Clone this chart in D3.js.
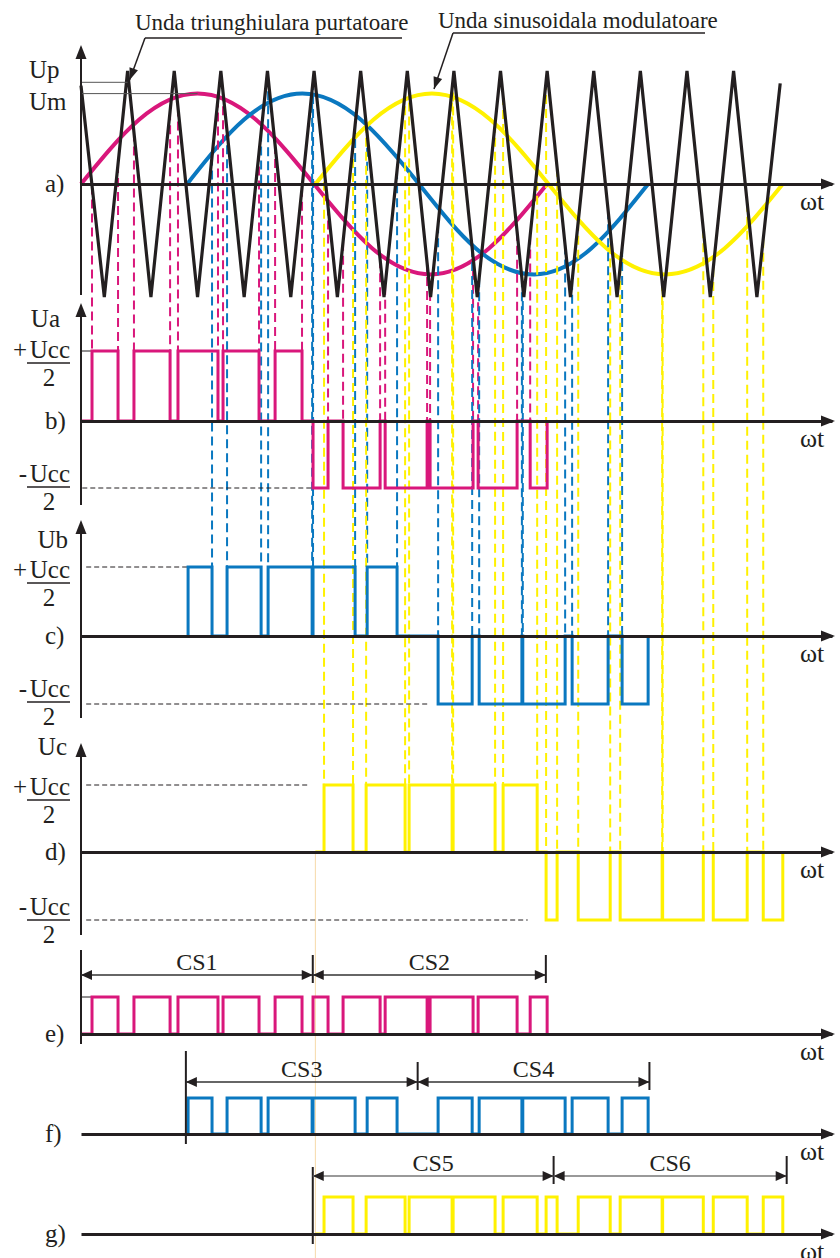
<!DOCTYPE html>
<html>
<head>
<meta charset="utf-8">
<script src="https://cdnjs.cloudflare.com/ajax/libs/d3/7.8.5/d3.min.js"></script>
<style>
  body { margin: 0; background: #fff; }
  text { font-family: "Liberation Serif", "Times New Roman", serif; fill: #231f20; }
</style>
</head>
<body>
<div id="chart"></div>
<script>
"use strict";

// carrier triangle: vertices in ωt (degrees), value relative to Up
var triT = [0, 18, 36, 54, 72, 90, 108, 126, 144, 162, 180, 198, 216, 234, 252, 270,
            288, 306, 324, 342, 360, 378, 396, 414, 432, 450, 468, 486, 504, 522, 540];
var triV = [0.87, -1, 1, -1, 1, -1, 1, -1, 1, -1, 1, -1, 1, -1, 1, -1,
            1, -1, 1, -1, 1, -1, 1, -1, 1, -1, 1, -1, 1, -1, 0.89];

// modulating waves: sample times per phase and shared sampled values
var sineV = [0, 0.57, 0.8, 0.57, 0, -0.57, -0.8, -0.57, 0];
var aT = [0, 45, 90, 135, 180, 225, 270, 315, 360];
var bT = [82, 126, 171, 216, 261, 305, 350, 394, 438];
var cT = [181, 226, 271, 316, 361, 406, 451, 497, 542];

// switching intervals [from, to] in degrees, positive and negative
var aPos = [[8.5, 28.6], [40.9, 68.8], [74.9, 105.8], [109.7, 137.5], [149.9, 170.7]];
var aNeg = [[179.2, 190.8], [202.4, 231.0], [234.9, 267.3], [269.6, 302.8], [306.7, 336.8], [346.9, 360]];
var bPos = [[82.7, 101.2], [112.8, 139.1], [144.5, 178.5], [179.2, 211.7], [221.0, 244.1]];
var bNeg = [[275.8, 302.1], [307.5, 340.5], [341.2, 373.9], [379.3, 407.1], [417.9, 438]];
var cPos = [[187.7, 210.1], [220.2, 250.3], [253.4, 286.6], [287.4, 319.8], [326.0, 352.3]];
var cNeg = [[359.2, 367.7], [384.0, 408.7], [416.4, 448.8], [449.2, 480.6], [488.3, 514.5], [526.9, 542]];

// commutation sequences
var csNames = ["CS1", "CS2", "CS3", "CS4", "CS5", "CS6"];
var csStart = [0, 179, 81, 260, 179, 365];
var csEnd   = [179, 359, 260, 439, 365, 545];

// level markers Up / Um
var upLevel = 0.9, umLevel = 0.8;

var W = 840, H = 1258, ink = "#231f20";
var svg = d3.select("#chart").append("svg").attr("width", W).attr("height", H);

var x = d3.scaleLinear().domain([0, 580]).range([81, 832]);
var yA = d3.scaleLinear().domain([-1, 1]).range([297, 71]);
var yB = d3.scaleLinear().domain([-1, 0, 1]).range([488, 421, 351]);
var yC = d3.scaleLinear().domain([-1, 0, 1]).range([704, 636, 567]);
var yD = d3.scaleLinear().domain([-1, 0, 1]).range([920, 852, 785]);
var yE = d3.scaleLinear().domain([0, 1]).range([1034, 997]);
var yF = d3.scaleLinear().domain([0, 1]).range([1134, 1098]);
var yG = d3.scaleLinear().domain([0, 1]).range([1234, 1197]);
var tri = d3.scaleLinear().domain(triT).range(triV);

var phases = [
  { t: aT, pos: aPos, neg: aNeg, y: yB, yr: yE, color: "#d9177b" },
  { t: bT, pos: bPos, neg: bNeg, y: yC, yr: yF, color: "#0a78c0" },
  { t: cT, pos: cPos, neg: cNeg, y: yD, yr: yG, color: "#fff100" }
];

function arrowHead(g, x1, y1, x2, y2, len, hw) {
  var dx = x2 - x1, dy = y2 - y1, L = Math.sqrt(dx * dx + dy * dy);
  var ux = dx / L, uy = dy / L;
  var bx = x2 - ux * len, by = y2 - uy * len;
  g.append("path")
    .attr("d", "M" + x2 + "," + y2 + "L" + (bx - uy * hw) + "," + (by + ux * hw) +
               "L" + (bx + uy * hw) + "," + (by - ux * hw) + "Z")
    .attr("fill", ink);
}

/*
 * thin faint guide under the yellow phase start
 */
svg.append("line")
  .attr("x1", x(cT[0])).attr("x2", x(cT[0]))
  .attr("y1", yD(0)).attr("y2", H)
  .attr("stroke", "#f6d9a8").attr("stroke-width", 1);

/*
 * modulating sine waves
 */
var sineLine = d3.line().x(function (d) { return x(d[0]); })
                        .y(function (d) { return yA(d[1]); })
                        .curve(d3.curveNatural);
phases.forEach(function (p) {
  svg.append("path")
    .attr("d", sineLine(d3.zip(p.t, sineV)))
    .attr("fill", "none").attr("stroke", p.color).attr("stroke-width", 4);
});

/*
 * dashed projections from the intersections down to the phase voltage
 */
phases.forEach(function (p) {
  var edges = [];
  p.pos.forEach(function (iv) { iv.forEach(function (t) { edges.push({ t: t, lv: 1 }); }); });
  p.neg.forEach(function (iv) { iv.forEach(function (t) { edges.push({ t: t, lv: 0 }); }); });
  edges = edges.filter(function (e) { return e.t > p.t[0] + 1 && e.t < p.t[8] - 1; });
  svg.append("g").selectAll("line").data(edges).join("line")
    .attr("x1", function (e) { return x(e.t); })
    .attr("x2", function (e) { return x(e.t); })
    .attr("y1", function (e) { return yA(tri(e.t)); })
    .attr("y2", function (e) { return p.y(e.lv); })
    .attr("stroke", p.color).attr("stroke-width", 2)
    .attr("stroke-dasharray", "9,5");
});

/*
 * carrier triangle
 */
svg.append("path")
  .attr("d", d3.line().x(function (d) { return x(d[0]); })
                      .y(function (d) { return yA(d[1]); })(d3.zip(triT, triV)))
  .attr("fill", "none").attr("stroke", ink).attr("stroke-width", 3.2);

// Up / Um markers
svg.append("line").attr("x1", x(0)).attr("x2", x(36)).attr("y1", yA(upLevel)).attr("y2", yA(upLevel))
  .attr("stroke", "#555").attr("stroke-width", 1);
svg.append("line").attr("x1", x(0)).attr("x2", x(90)).attr("y1", yA(umLevel)).attr("y2", yA(umLevel))
  .attr("stroke", "#555").attr("stroke-width", 1);

/*
 * reference dashed levels
 */
var refLines = [
  { y: yB, lv: -1, t0: 1, t1: 179 },
  { y: yC, lv: 1, t0: 4, t1: 82 },
  { y: yC, lv: -1, t0: 4, t1: 268 },
  { y: yD, lv: 1, t0: 4, t1: 177 },
  { y: yD, lv: -1, t0: 4, t1: 345 }
];
refLines.forEach(function (r) {
  svg.append("line")
    .attr("x1", x(r.t0)).attr("x2", x(r.t1))
    .attr("y1", r.y(r.lv)).attr("y2", r.y(r.lv))
    .attr("stroke", ink).attr("stroke-width", 1).attr("stroke-dasharray", "5,3");
});
[yB, yE].forEach(function (s) {
  svg.append("line").attr("x1", x(0)).attr("x2", x(8.5))
    .attr("y1", s(1)).attr("y2", s(1)).attr("stroke", ink).attr("stroke-width", 1);
});

/*
 * pulse trains (phase voltages and rectified commutation rows)
 */
function pulsePath(p, ys, rect) {
  var iv = p.pos.map(function (d) { return [d[0], d[1], 1]; })
    .concat(p.neg.map(function (d) { return [d[0], d[1], rect ? 1 : -1]; }))
    .sort(function (a, b) { return a[0] - b[0]; });
  var pts = [[p.t[0], 0]];
  iv.forEach(function (d) { pts.push([d[0], 0], [d[0], d[2]], [d[1], d[2]], [d[1], 0]); });
  pts.push([p.t[8], 0]);
  return d3.line().x(function (d) { return x(d[0]); }).y(function (d) { return ys(d[1]); })(pts);
}
phases.forEach(function (p) {
  [[p.y, false], [p.yr, true]].forEach(function (c) {
    svg.append("path").attr("d", pulsePath(p, c[0], c[1]))
      .attr("fill", "none").attr("stroke", p.color).attr("stroke-width", 3)
      .attr("stroke-linejoin", "miter");
  });
});

/*
 * axes
 */
var zeroYs = [yA(0), yB(0), yC(0), yD(0), yE(0), yF(0), yG(0)];
zeroYs.forEach(function (y0) {
  var g = svg.append("g").attr("transform", "translate(0," + y0 + ")")
    .call(d3.axisBottom(x).tickValues([]).tickSizeOuter(0));
  g.select(".domain").attr("stroke", ink).attr("stroke-width", 3);
  arrowHead(svg, 800, y0, 835, y0, 14, 5.5);
  svg.append("text").attr("x", 800).attr("y", y0 + 26).attr("font-size", 26).text("ωt");
});

var vAxes = [[45, 295], [303, 505], [520, 718], [743, 935]];
vAxes.forEach(function (v) {
  svg.append("line").attr("x1", x(0)).attr("x2", x(0)).attr("y1", v[0] + 8).attr("y2", v[1])
    .attr("stroke", ink).attr("stroke-width", 2);
  arrowHead(svg, x(0), v[1], x(0), v[0], 14, 5.5);
});
svg.append("line").attr("x1", x(0)).attr("x2", x(0)).attr("y1", 950).attr("y2", 1044)
  .attr("stroke", ink).attr("stroke-width", 2);
svg.append("line").attr("x1", x(csStart[2])).attr("x2", x(csStart[2])).attr("y1", 1051).attr("y2", 1144)
  .attr("stroke", ink).attr("stroke-width", 2);
svg.append("line").attr("x1", x(csStart[4])).attr("x2", x(csStart[4])).attr("y1", 1167).attr("y2", 1244)
  .attr("stroke", ink).attr("stroke-width", 2);

/*
 * commutation sequence dimension lines
 */
var csY = [975, 975, 1082, 1082, 1176, 1176];
csNames.forEach(function (name, i) {
  var x0 = x(csStart[i]), x1 = x(csEnd[i]), y = csY[i];
  var col = i >= 4 ? "#777" : "#333";
  svg.append("line").attr("x1", x0).attr("x2", x1).attr("y1", y).attr("y2", y)
    .attr("stroke", col).attr("stroke-width", 1.3);
  arrowHead(svg, x0 + 20, y, x0, y, 11, 5);
  arrowHead(svg, x1 - 20, y, x1, y, 11, 5);
  svg.append("line").attr("x1", x1).attr("x2", x1).attr("y1", y - 20).attr("y2", y + 8)
    .attr("stroke", ink).attr("stroke-width", 2);
  svg.append("text").attr("x", (x0 + x1) / 2).attr("y", y - 5)
    .attr("text-anchor", "middle").attr("font-size", 24).text(name);
});

/*
 * labels
 */
function label(t, xx, yy, anchor, size) {
  svg.append("text").attr("x", xx).attr("y", yy).attr("text-anchor", anchor || "start")
    .attr("font-size", size || 25).text(t);
}
label("Up", 29, 78);
label("Um", 29, 110);
label("a)", 45, 192);
label("Ua", 60, 327, "end");
label("b)", 45, 429);
label("Ub", 68, 548, "end");
label("c)", 45, 644);
label("Uc", 67, 755, "end");
label("d)", 45, 860);
label("e)", 45, 1042);
label("f)", 45, 1142);
label("g)", 45, 1242);

function fraction(sign, yy) {
  label(sign, 27, yy, "end");
  label("Ucc", 70, yy, "end");
  svg.append("line").attr("x1", 27).attr("x2", 70).attr("y1", yy + 5).attr("y2", yy + 5)
    .attr("stroke", ink).attr("stroke-width", 1.5);
  label("2", 49, yy + 28, "middle");
}
fraction("+", 358);
fraction("-", 482);
fraction("+", 578);
fraction("-", 697);
fraction("+", 795);
fraction("-", 915);

// annotations
label("Unda triunghiulara purtatoare", 135, 30, "start", 23);
svg.append("line").attr("x1", 145).attr("x2", 402).attr("y1", 38).attr("y2", 38)
  .attr("stroke", ink).attr("stroke-width", 1.5);
svg.append("line").attr("x1", 145).attr("x2", x(36) + 2).attr("y1", 38).attr("y2", 80)
  .attr("stroke", ink).attr("stroke-width", 1.5);
arrowHead(svg, 145, 38, x(36) + 2, 80, 12, 4.5);

label("Unda sinusoidala modulatoare", 438, 28, "start", 23);
svg.append("line").attr("x1", 453).attr("x2", 705).attr("y1", 33).attr("y2", 33)
  .attr("stroke", ink).attr("stroke-width", 1.5);
svg.append("line").attr("x1", 453).attr("x2", 434).attr("y1", 33).attr("y2", 89)
  .attr("stroke", ink).attr("stroke-width", 1.5);
arrowHead(svg, 453, 33, 434, 89, 12, 4.5);
</script>
</body>
</html>
